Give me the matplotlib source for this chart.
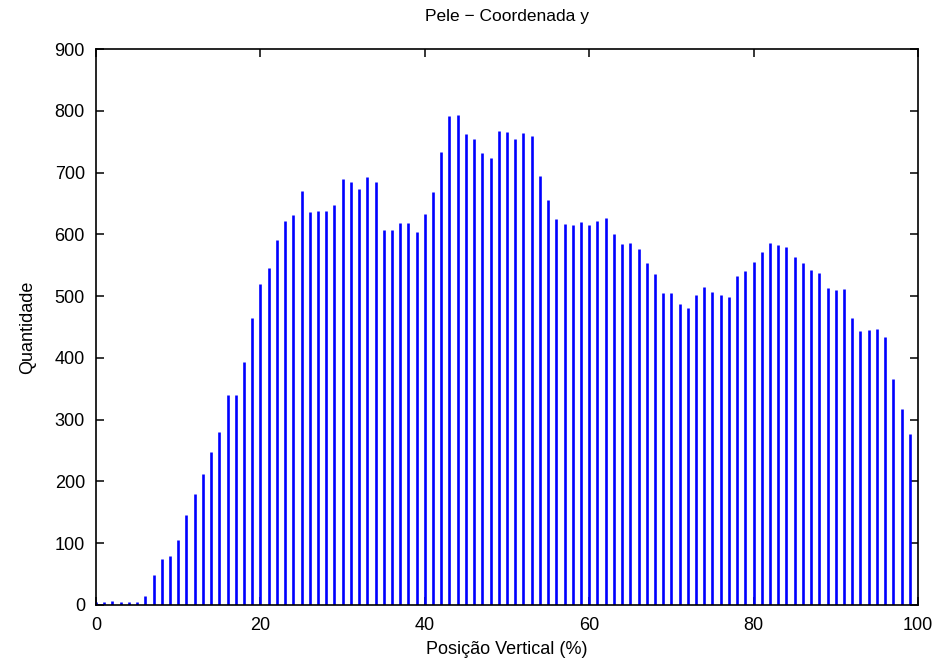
import matplotlib
matplotlib.use("Agg")
import matplotlib.pyplot as plt
import numpy as np

plt.rcParams['font.family'] = ['Liberation Sans', 'DejaVu Sans']

positions = list(range(100))
counts = [5, 5, 7, 5, 4, 4, 14, 48, 75, 80,
          105, 145, 180, 212, 247, 280, 340, 340, 393, 465,
          519, 546, 591, 621, 631, 670, 636, 638, 638, 648,
          689, 685, 674, 692, 684, 607, 607, 618, 619, 603,
          633, 669, 733, 791, 793, 763, 755, 731, 724, 768,
          765, 755, 764, 759, 694, 656, 624, 617, 615, 620,
          615, 622, 626, 601, 584, 586, 577, 553, 535, 505,
          505, 488, 481, 501, 515, 507, 501, 499, 533, 540,
          555, 571, 586, 583, 580, 564, 553, 542, 537, 513,
          510, 512, 464, 443, 445, 447, 433, 365, 318, 276]
xticks = [0, 20, 40, 60, 80, 100]
yticks = [0, 100, 200, 300, 400, 500, 600, 700, 800, 900]

fig = plt.figure(figsize=(9.37, 6.64), dpi=100)
ax = fig.add_axes([0.1025, 0.0889, 0.8772, 0.8373])

ax.vlines(positions, 0, counts, colors='#0000ff', linewidth=1.9)

ax.set_xlim(0, 100)
ax.set_ylim(0, 900)
ax.set_xticks(xticks)
ax.set_yticks(yticks)
ax.tick_params(direction='in', length=5.5, width=1.1, labelsize=13,
               top=True, right=True, pad=8, colors='black')
ax.tick_params(axis='x', pad=9)
for s in ax.spines.values():
    s.set_linewidth(1.2)

ax.set_title('Pele \u2212 Coordenada y', fontsize=12.5, pad=20)
ax.set_xlabel('Posição Vertical (%)', fontsize=13, labelpad=5)
ax.set_ylabel('Quantidade', fontsize=13, labelpad=13)

fig.savefig('out.png', dpi=100)
